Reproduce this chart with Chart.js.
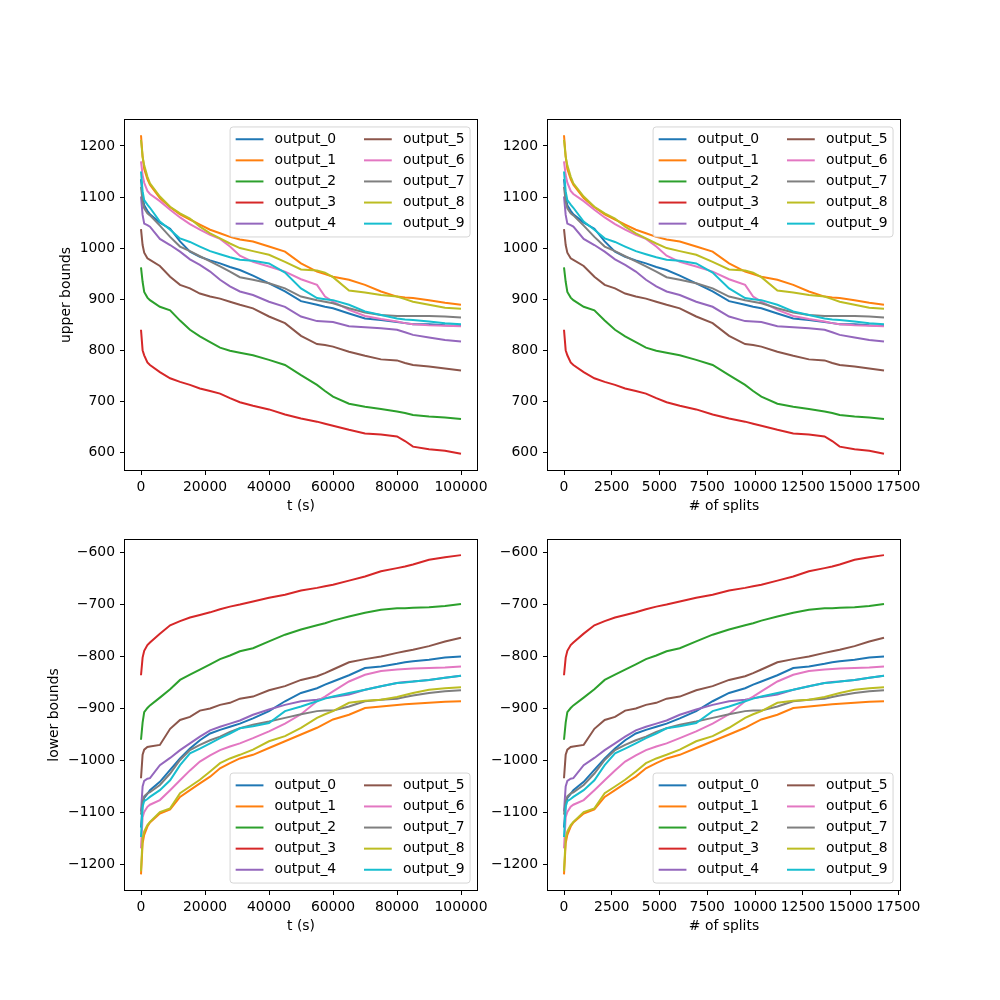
<!DOCTYPE html>
<html><head><meta charset="utf-8">
<script src="https://cdn.jsdelivr.net/npm/chart.js@4.4.1/dist/chart.umd.min.js"></script>
<style>
html,body{margin:0;padding:0;background:#fff;}
#fig{position:relative;width:1000px;height:1000px;overflow:hidden;background:#fff;}
#fig canvas{position:absolute;}
</style></head><body><div id="fig"></div>
<script>
// ---- data ----
const seriesNames = ['output_0','output_1','output_2','output_3','output_4','output_5','output_6','output_7','output_8','output_9'];
const seriesColors = ['#1f77b4','#ff7f0e','#2ca02c','#d62728','#9467bd','#8c564b','#e377c2','#7f7f7f','#bcbd22','#17becf'];
// sample points: elapsed time (s) and the matching number of splits
const timeSeconds = [0,500,1000,2000,2800,5900,9100,12200,15300,18400,21600,24700,27800,30900,35000,40000,45000,50000,55000,57500,60000,65000,70000,75000,80000,82500,85000,90000,95000,100000];
const splitCounts = [0,88,175,350,490,1030,1590,2130,2670,3200,3760,4290,4830,5370,6060,6920,7780,8640,9480,9900,10330,11170,12000,12820,13640,14040,14430,15210,15980,16750];

const upper0 = [1135,1100,1084,1073,1066,1050,1038,1013,993,983,976,970,963,957,946,931,915,896,889,885,882,872,862,859,855,853,851,851,849,848];
const upper1 = [1221,1179,1155,1135,1124,1098,1080,1066,1056,1046,1036,1029,1022,1017,1013,1003,993,970,954,949,944,938,928,915,905,903,902,898,893,889];
const upper2 = [962,934,914,903,898,885,878,858,840,827,816,805,799,795,790,781,771,751,732,720,709,695,689,685,680,677,673,670,668,665];
const upper3 = [840,800,790,776,771,757,745,738,732,725,720,715,706,698,691,684,674,666,660,656,652,644,637,635,631,622,611,606,603,597];
const upper4 = [1101,1065,1048,1045,1042,1018,1006,993,978,967,954,938,925,915,908,895,885,866,857,856,855,847,845,843,840,835,830,825,820,817];
const upper5 = [1037,1006,991,980,977,965,944,928,921,911,905,901,895,889,882,866,853,828,812,810,807,797,789,782,780,775,771,768,764,760];
const upper6 = [1170,1143,1128,1112,1106,1092,1075,1060,1047,1036,1026,1018,1003,985,973,964,954,939,928,905,895,879,867,861,856,853,851,849,848,847];
const upper7 = [1120,1091,1078,1068,1064,1044,1022,1003,994,984,974,964,954,943,938,931,921,905,898,895,892,882,874,869,867,867,867,867,866,864];
const upper8 = [1212,1179,1162,1140,1127,1101,1081,1068,1058,1042,1029,1019,1009,1000,994,987,973,958,956,952,943,917,913,908,905,900,895,889,883,881];
const upper9 = [1150,1111,1094,1085,1079,1052,1036,1019,1012,1003,994,988,982,977,975,970,952,921,902,900,898,889,876,869,862,860,859,856,853,851];

const lower0 = [-1130,-1085,-1073,-1065,-1058,-1042,-1019,-997,-978,-962,-949,-942,-936,-930,-920,-906,-887,-871,-862,-855,-849,-837,-823,-820,-815,-812,-810,-807,-803,-801];
const lower1 = [-1220,-1160,-1144,-1128,-1120,-1103,-1095,-1071,-1058,-1045,-1032,-1016,-1006,-997,-990,-977,-964,-951,-938,-930,-922,-913,-900,-897,-894,-893,-892,-890,-888,-887];
const lower2 = [-961,-928,-908,-900,-895,-880,-864,-846,-836,-826,-816,-806,-799,-791,-785,-772,-759,-749,-741,-737,-732,-724,-717,-711,-708,-708,-707,-706,-704,-700];
const lower3 = [-837,-803,-790,-779,-774,-757,-741,-733,-726,-721,-716,-710,-705,-701,-695,-688,-682,-674,-669,-666,-663,-655,-647,-637,-631,-628,-624,-615,-610,-606];
const lower4 = [-1099,-1051,-1040,-1036,-1035,-1010,-996,-981,-968,-955,-943,-936,-930,-924,-913,-903,-894,-887,-884,-881,-879,-874,-865,-858,-852,-850,-849,-846,-842,-838];
const lower5 = [-1035,-990,-980,-975,-974,-971,-940,-923,-917,-905,-901,-894,-890,-882,-878,-866,-858,-846,-839,-833,-826,-812,-806,-801,-794,-791,-788,-781,-772,-765];
const lower6 = [-1170,-1110,-1100,-1090,-1086,-1077,-1058,-1039,-1020,-1003,-991,-981,-974,-968,-958,-945,-930,-912,-887,-878,-868,-849,-836,-829,-826,-825,-824,-823,-822,-820];
const lower7 = [-1105,-1080,-1070,-1064,-1062,-1048,-1026,-1000,-981,-971,-962,-955,-946,-939,-932,-926,-919,-912,-906,-905,-905,-897,-887,-884,-882,-879,-876,-871,-868,-866];
const lower8 = [-1214,-1150,-1137,-1125,-1119,-1100,-1093,-1064,-1051,-1038,-1022,-1006,-997,-990,-980,-964,-954,-938,-919,-912,-906,-890,-886,-884,-879,-875,-871,-865,-862,-860];
const lower9 = [-1148,-1090,-1079,-1075,-1071,-1058,-1039,-1010,-987,-978,-968,-958,-949,-939,-935,-929,-906,-897,-887,-882,-878,-871,-865,-858,-852,-851,-849,-846,-842,-838];

const timeTicks = [0,20000,40000,60000,80000,100000];
const splitTicks = [0,2500,5000,7500,10000,12500,15000,17500];
const upperTicks = [600,700,800,900,1000,1100,1200];
const lowerTicks = [-1200,-1100,-1000,-900,-800,-700,-600];

const upperSeries = [upper0,upper1,upper2,upper3,upper4,upper5,upper6,upper7,upper8,upper9];
const lowerSeries = [lower0,lower1,lower2,lower3,lower4,lower5,lower6,lower7,lower8,lower9];

// ---- drawing ----
const FS = 13.9;
const FAMILY = "'DejaVu Sans', sans-serif";
Chart.defaults.font.family = FAMILY;
Chart.defaults.font.size = FS;
Chart.defaults.color = '#000';

const fmt = v => v < 0 ? '\u2212' + Math.abs(v) : String(v);

const framePlugin = {
  id: 'frame',
  afterDatasetsDraw(chart) {
    const {ctx, chartArea: a} = chart;
    ctx.save();
    ctx.strokeStyle = '#000';
    ctx.lineWidth = 1;
    ctx.strokeRect(Math.round(a.left) - 0.5, Math.round(a.top) - 0.5, Math.round(a.right - a.left) + 1, Math.round(a.bottom - a.top) + 1);
    ctx.restore();
  }
};

const legendPlugin = {
  id: 'mplLegend',
  afterDraw(chart, args, opts) {
    const ctx = chart.ctx, a = chart.chartArea;
    const items = chart.data.datasets;
    const rows = 5;
    const pad = 0.4 * FS, handle = 2 * FS, hpad = 0.8 * FS, colsep = 2 * FS;
    ctx.save();
    ctx.font = FS + "px " + FAMILY;
    const colW = [0, 1].map(c => Math.max(...items.slice(c * rows, (c + 1) * rows).map(d => ctx.measureText(d.label).width)));
    const boxW = 2 * pad + 2 * (handle + hpad) + colW[0] + colW[1] + colsep;
    const boxH = 110;
    const right = a.right - 0.5 * FS;
    const top = opts.at === 'top' ? a.top + 0.5 * FS : a.bottom - 0.5 * FS - boxH;
    const left = right - boxW;
    const r = 3;
    ctx.beginPath();
    ctx.moveTo(left + r, top);
    ctx.lineTo(right - r, top);
    ctx.arcTo(right, top, right, top + r, r);
    ctx.lineTo(right, top + boxH - r);
    ctx.arcTo(right, top + boxH, right - r, top + boxH, r);
    ctx.lineTo(left + r, top + boxH);
    ctx.arcTo(left, top + boxH, left, top + boxH - r, r);
    ctx.lineTo(left, top + r);
    ctx.arcTo(left, top, left + r, top, r);
    ctx.closePath();
    ctx.fillStyle = 'rgba(255,255,255,0.8)';
    ctx.fill();
    ctx.strokeStyle = 'rgba(204,204,204,0.8)';
    ctx.lineWidth = 1;
    ctx.stroke();
    items.forEach((d, i) => {
      const c = Math.floor(i / rows), rr = i % rows;
      const x0 = left + pad + c * (handle + hpad + colW[0] + colsep);
      const y = top + 12.3 + rr * 21.1;
      ctx.beginPath();
      ctx.moveTo(x0, y);
      ctx.lineTo(x0 + handle, y);
      ctx.strokeStyle = d.borderColor;
      ctx.lineWidth = 2;
      ctx.stroke();
      ctx.fillStyle = '#000';
      ctx.textBaseline = 'middle';
      ctx.textAlign = 'left';
      ctx.fillText(d.label, x0 + handle + hpad, y);
    });
    ctx.restore();
  }
};

function makeChart(cfg) {
  const padL = 10, padT = 40, padR = 45, padB = 10, hx = 45;
  const canvas = document.createElement('canvas');
  const w = (cfg.R - cfg.L) + cfg.wy + padL + padR;
  const h = (cfg.B - cfg.T) + padT + hx + padB;
  canvas.width = w; canvas.height = h;
  canvas.style.width = w + 'px'; canvas.style.height = h + 'px';
  canvas.style.left = (cfg.L - cfg.wy - padL) + 'px';
  canvas.style.top = (cfg.T - padT) + 'px';
  document.getElementById('fig').appendChild(canvas);
  const datasets = cfg.series.map((ys, i) => ({
    label: seriesNames[i],
    data: ys.map((y, j) => ({x: cfg.xs[j], y: y})),
    borderColor: seriesColors[i],
    backgroundColor: seriesColors[i],
    borderWidth: 2,
    pointRadius: 0,
    fill: false,
    tension: 0,
    order: 9 - i
  }));
  const tickFont = {family: FAMILY, size: FS};
  return new Chart(canvas, {
    type: 'line',
    data: {datasets},
    options: {
      responsive: false,
      animation: false,
      devicePixelRatio: 1,
      layout: {padding: {left: padL, top: padT, right: padR, bottom: padB}},
      plugins: {legend: {display: false}, tooltip: {enabled: false}, mplLegend: {at: cfg.legendAt}},
      scales: {
        x: {
          type: 'linear', min: cfg.xMin, max: cfg.xMax,
          afterBuildTicks: s => { s.ticks = cfg.xTicks.map(v => ({value: v})); },
          afterFit: s => { s.height = hx; },
          ticks: {autoSkip: false, maxRotation: 0, minRotation: 0, padding: 4, color: '#000', font: tickFont, callback: v => fmt(v)},
          grid: {drawOnChartArea: false, drawTicks: true, tickLength: 5, color: '#000', lineWidth: 1},
          border: {display: false},
          title: {display: true, text: cfg.xTitle, padding: 0, color: '#000', font: tickFont}
        },
        y: {
          type: 'linear', min: cfg.yMin, max: cfg.yMax,
          afterBuildTicks: s => { s.ticks = cfg.yTicks.map(v => ({value: v})); },
          afterFit: s => { s.width = cfg.wy; },
          ticks: {autoSkip: false, padding: 5, color: '#000', font: tickFont, callback: v => fmt(v)},
          grid: {drawOnChartArea: false, drawTicks: true, tickLength: 5, color: '#000', lineWidth: 1},
          border: {display: false},
          title: {display: !!cfg.yTitle, text: cfg.yTitle || '', padding: 0, color: '#000', font: tickFont}
        }
      }
    },
    plugins: [framePlugin, legendPlugin]
  });
}

const upperRange = [565.3, 1250.9];
const lowerRange = [-1250, -576.9];
const timeRange = [-5000, 105000];
const splitRange = [-837.5, 17587.5];

makeChart({L:125, T:120, R:477, B:470, wy:67, xs: timeSeconds, series: upperSeries, xTicks: timeTicks, yTicks: upperTicks,
  xMin: timeRange[0], xMax: timeRange[1], yMin: upperRange[0], yMax: upperRange[1], xTitle: 't (s)', yTitle: 'upper bounds', legendAt: 'top'});
makeChart({L:548, T:120, R:900, B:470, wy:67, xs: splitCounts, series: upperSeries, xTicks: splitTicks, yTicks: upperTicks,
  xMin: splitRange[0], xMax: splitRange[1], yMin: upperRange[0], yMax: upperRange[1], xTitle: '# of splits', yTitle: '', legendAt: 'top'});
makeChart({L:125, T:540, R:477, B:890, wy:79, xs: timeSeconds, series: lowerSeries, xTicks: timeTicks, yTicks: lowerTicks,
  xMin: timeRange[0], xMax: timeRange[1], yMin: lowerRange[0], yMax: lowerRange[1], xTitle: 't (s)', yTitle: 'lower bounds', legendAt: 'bottom'});
makeChart({L:548, T:540, R:900, B:890, wy:67, xs: splitCounts, series: lowerSeries, xTicks: splitTicks, yTicks: lowerTicks,
  xMin: splitRange[0], xMax: splitRange[1], yMin: lowerRange[0], yMax: lowerRange[1], xTitle: '# of splits', yTitle: '', legendAt: 'bottom'});
</script>
</body></html>
